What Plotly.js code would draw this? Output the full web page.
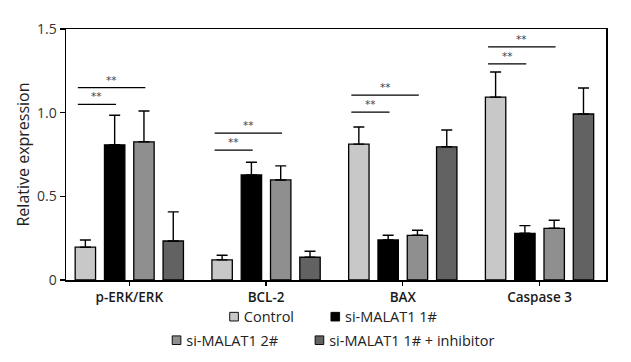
<!DOCTYPE html>
<html>
<head>
<meta charset="utf-8">
<script src="https://cdn.plot.ly/plotly-3.0.1.min.js"></script>
<style>
html,body{margin:0;padding:0;background:#fff;}
#chart{width:631px;height:362px;}
/* smaller legend swatches sitting close to their labels */
#chart .legendpoints path { transform: translate(36.25px, 0px) scale(0.72); }
</style>
</head>
<body>
<div id="chart"></div>
<script>
// ---- data ----
const categories = ['p-ERK/ERK', 'BCL-2', 'BAX', 'Caspase 3'];
const seriesNames = ['Control', 'si-MALAT1 1#', 'si-MALAT1 2#', 'si-MALAT1 1# + inhibitor'];
const controlVals   = [0.196, 0.120, 0.812, 1.093];
const controlErr    = [0.043, 0.028, 0.102, 0.150];
const si1Vals       = [0.808, 0.628, 0.239, 0.279];
const si1Err        = [0.177, 0.076, 0.028, 0.046];
const si2Vals       = [0.826, 0.598, 0.267, 0.309];
const si2Err        = [0.184, 0.084, 0.030, 0.048];
const inhVals       = [0.233, 0.136, 0.796, 0.992];
const inhErr        = [0.174, 0.036, 0.100, 0.155];
const yTickVals = [0, 0.5, 1.0, 1.5];
const yTickText = ['0', '0.5', '1.0', '1.5'];
// significance brackets: category index, from series, to series, height, label
const sigCategory = [0, 0, 1, 1, 2, 2, 3, 3];
const sigFrom     = [0, 0, 0, 0, 0, 0, 0, 0];
const sigTo       = [1, 2, 1, 2, 1, 2, 1, 2];
const sigHeight   = [1.05, 1.15, 0.776, 0.878, 1.003, 1.105, 1.291, 1.393];
const sigLabel    = ['**', '**', '**', '**', '**', '**', '**', '**'];

// ---- styles ----
const colors = ['#c8c8c8', '#000000', '#8f8f8f', '#626262'];
const legendOf = ['legend', 'legend', 'legend2', 'legend2'];
const allVals = [controlVals, si1Vals, si2Vals, inhVals];
const allErr = [controlErr, si1Err, si2Err, inhErr];
const bargap = 0.143, bargroupgap = 0.304;
const nSeries = allVals.length;
const slot = (1 - bargap) / nSeries;
function barCenter(cat, s) { return cat - (1 - bargap) / 2 + slot * (s + 0.5); }

const textFont = 'Open Sans, Noto Sans, sans-serif';

const traces = allVals.map((v, s) => ({
  type: 'bar',
  name: seriesNames[s],
  x: categories,
  y: v,
  legend: legendOf[s],
  marker: {color: colors[s], line: {color: '#000', width: 1.3}},
  error_y: {type: 'data', array: allErr[s], symmetric: false, arrayminus: allErr[s].map(() => 0),
            color: '#000', thickness: 1.4, width: 5.5}
}));

const shapes = [], annotations = [];
sigCategory.forEach((c, i) => {
  const x0 = barCenter(c, sigFrom[i]) - 0.055;
  const x1 = barCenter(c, sigTo[i]) + 0.01;
  shapes.push({type: 'line', xref: 'x', yref: 'y', x0: x0, x1: x1, y0: sigHeight[i], y1: sigHeight[i],
               line: {color: '#000', width: 1.2}});
  annotations.push({xref: 'x', yref: 'y', x: (x0 + x1) / 2, y: sigHeight[i], text: sigLabel[i],
                    showarrow: false, yanchor: 'bottom', yshift: 0,
                    font: {family: 'DejaVu Sans, sans-serif', size: 10.5, color: '#444'}});
});

const legendFont = {family: textFont, size: 14.5, color: '#222'};
const layout = {
  width: 631, height: 362,
  margin: {l: 66, r: 25, t: 29, b: 82},
  paper_bgcolor: '#fff', plot_bgcolor: '#fff',
  barmode: 'group', bargap: bargap, bargroupgap: bargroupgap,
  showlegend: true,
  xaxis: {
    type: 'category', range: [-0.463, 3.486], automargin: false,
    showline: true, mirror: true, linecolor: '#000', linewidth: 1.5,
    ticks: 'outside', ticklen: 4, tickwidth: 1.2, tickcolor: '#000',
    tickfont: {family: textFont, size: 13.5, color: '#1a1a1a', weight: 600},
    showgrid: false, zeroline: false
  },
  yaxis: {
    range: [0, 1.5], tickvals: yTickVals, ticktext: yTickText, automargin: false,
    showline: true, mirror: true, linecolor: '#000', linewidth: 1.5,
    ticks: 'outside', ticklen: 5, tickwidth: 1.2, tickcolor: '#000',
    tickfont: {family: textFont, size: 14, color: '#333'},
    title: {text: 'Relative expression', font: {family: textFont, size: 16, color: '#222'}, standoff: 3},
    showgrid: false, zeroline: false
  },
  legend: {orientation: 'h', xref: 'container', yref: 'container', x: 0.5076, xanchor: 'center',
           y: 0.125, yanchor: 'middle',
           font: legendFont, bgcolor: 'rgba(0,0,0,0)', itemclick: false, itemwidth: 36},
  legend2: {orientation: 'h', xref: 'container', yref: 'container', x: 0.5076, xanchor: 'center',
            y: 0.060, yanchor: 'middle',
            font: legendFont, bgcolor: 'rgba(0,0,0,0)', itemclick: false, itemwidth: 36},
  shapes: shapes,
  annotations: annotations
};

Plotly.newPlot('chart', traces, layout, {displayModeBar: false, staticPlot: true});
</script>
</body>
</html>
